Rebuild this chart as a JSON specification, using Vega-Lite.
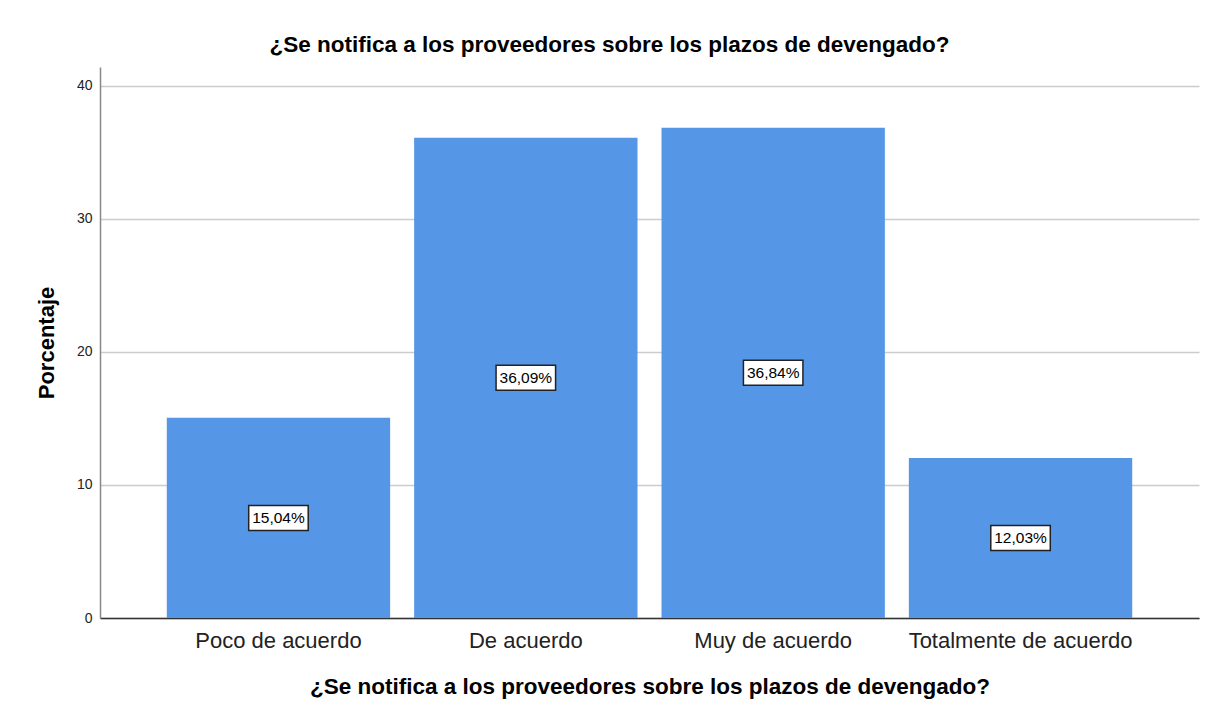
{
  "$schema": "https://vega.github.io/schema/vega-lite/v6.json",
  "width": 1099,
  "height": 551,
  "autosize": {"type": "none"},
  "padding": {"left": 100, "top": 67, "right": 7, "bottom": 93},
  "background": "white",
  "title": {
    "text": "¿Se notifica a los proveedores sobre los plazos de devengado?",
    "font": "Liberation Sans",
    "fontSize": 22.5,
    "fontWeight": "bold",
    "color": "#000000",
    "anchor": "middle",
    "frame": "group",
    "dx": -40,
    "offset": 11
  },
  "data": {
    "values": [
      {"categoria": "Poco de acuerdo", "pct": 15.04, "etiqueta": "15,04%"},
      {"categoria": "De acuerdo", "pct": 36.09, "etiqueta": "36,09%"},
      {"categoria": "Muy de acuerdo", "pct": 36.84, "etiqueta": "36,84%"},
      {"categoria": "Totalmente de acuerdo", "pct": 12.03, "etiqueta": "12,03%"}
    ]
  },
  "config": {
    "view": {"stroke": null},
    "font": "Liberation Sans"
  },
  "encoding": {
    "x": {
      "field": "categoria",
      "type": "nominal",
      "sort": null,
      "scale": {"paddingInner": 0.097, "paddingOuter": 0.27},
      "axis": {
        "title": "¿Se notifica a los proveedores sobre los plazos de devengado?",
        "titleFont": "Liberation Sans",
        "titleFontSize": 22.5,
        "titleFontWeight": "bold",
        "titleColor": "#000000",
        "titlePadding": 24,
        "labelAngle": 0,
        "labelFont": "Liberation Sans",
        "labelFontSize": 22,
        "labelColor": "#222222",
        "labelPadding": 12,
        "labelLimit": 400,
        "ticks": false,
        "domainColor": "#333333",
        "domainWidth": 1.5,
        "grid": false
      }
    }
  },
  "layer": [
    {
      "mark": {"type": "bar", "color": "#5596e6"},
      "encoding": {
        "y": {
          "field": "pct",
          "type": "quantitative",
          "scale": {"domain": [0, 41.4], "nice": false},
          "axis": {
            "title": "Porcentaje",
            "titleFont": "Liberation Sans",
            "titleFontSize": 22,
            "titleFontWeight": "bold",
            "titleColor": "#000000",
            "titlePadding": 18,
            "values": [0, 10, 20, 30, 40],
            "labelFont": "Liberation Sans",
            "labelFontSize": 14,
            "labelColor": "#222222",
            "labelPadding": 8,
            "ticks": false,
            "domainColor": "#888888",
            "domainWidth": 1.5,
            "grid": true,
            "gridColor": "#cccccc",
            "gridWidth": 1.5
          }
        }
      }
    },
    {
      "transform": [{"calculate": "datum.pct / 2", "as": "mitad"}],
      "mark": {
        "type": "point",
        "shape": "M-1,-0.42H1V0.42H-1Z",
        "size": 3540,
        "filled": true,
        "fill": "white",
        "stroke": "#222222",
        "strokeWidth": 1.5,
        "opacity": 1
      },
      "encoding": {
        "y": {"field": "mitad", "type": "quantitative"}
      }
    },
    {
      "transform": [{"calculate": "datum.pct / 2", "as": "mitad"}],
      "mark": {
        "type": "text",
        "font": "Liberation Sans",
        "fontSize": 15.5,
        "color": "#000000",
        "baseline": "middle",
        "align": "center"
      },
      "encoding": {
        "y": {"field": "mitad", "type": "quantitative"},
        "text": {"field": "etiqueta"}
      }
    }
  ]
}
